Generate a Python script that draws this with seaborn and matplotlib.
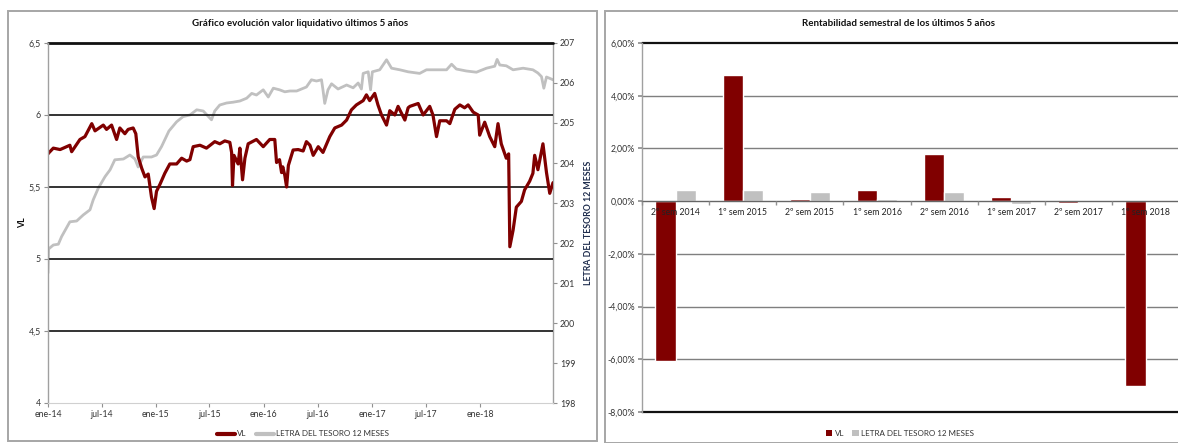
import matplotlib
matplotlib.use("Agg")
import matplotlib.pyplot as plt
import seaborn as sns
import pandas as pd
import numpy as np
from matplotlib.lines import Line2D
from matplotlib.patches import Rectangle, Patch
from matplotlib.ticker import FuncFormatter, FixedLocator

# ---------------- data ----------------
vl_dates = ["2014-01-01", "2014-01-05", "2014-01-19", "2014-02-11", "2014-03-16", "2014-03-22",
            "2014-04-19", "2014-05-06", "2014-05-29", "2014-06-09", "2014-07-07", "2014-07-18",
            "2014-08-04", "2014-08-21", "2014-09-01", "2014-09-18", "2014-09-29", "2014-10-16",
            "2014-10-25", "2014-11-02", "2014-11-14", "2014-11-25", "2014-12-06", "2014-12-17",
            "2014-12-26", "2015-01-03", "2015-01-15", "2015-01-31", "2015-02-17", "2015-03-12",
            "2015-03-29", "2015-04-15", "2015-04-26", "2015-05-07", "2015-05-30", "2015-06-21",
            "2015-07-19", "2015-08-05", "2015-08-22", "2015-09-08", "2015-09-14", "2015-09-17",
            "2015-09-22", "2015-10-06", "2015-10-12", "2015-10-21", "2015-10-29", "2015-11-09",
            "2015-12-07", "2015-12-30", "2016-01-21", "2016-02-07", "2016-02-13", "2016-02-23",
            "2016-03-01", "2016-03-05", "2016-03-12", "2016-03-18", "2016-03-24", "2016-04-09",
            "2016-04-26", "2016-05-13", "2016-05-24", "2016-06-05", "2016-06-16", "2016-07-03",
            "2016-07-19", "2016-08-11", "2016-08-28", "2016-09-20", "2016-10-07", "2016-10-23",
            "2016-11-09", "2016-12-02", "2016-12-13", "2016-12-24", "2017-01-10", "2017-01-21",
            "2017-02-02", "2017-02-19", "2017-03-02", "2017-03-19", "2017-03-30", "2017-04-22",
            "2017-05-03", "2017-05-09", "2017-06-06", "2017-06-23", "2017-07-15", "2017-07-26",
            "2017-08-07", "2017-08-18", "2017-09-10", "2017-09-21", "2017-10-08", "2017-10-25",
            "2017-11-10", "2017-11-22", "2017-12-09", "2017-12-26", "2017-12-31", "2018-01-17",
            "2018-02-03", "2018-02-20", "2018-03-03", "2018-03-14", "2018-03-31", "2018-04-08",
            "2018-04-12", "2018-04-23", "2018-05-04", "2018-05-21", "2018-06-01", "2018-06-18",
            "2018-06-29", "2018-07-05", "2018-07-16", "2018-08-02", "2018-08-14", "2018-08-25",
            "2018-09-05"]
vl_values = [5.73, 5.74, 5.77, 5.76, 5.79, 5.745,
             5.83, 5.85, 5.94, 5.89, 5.93, 5.90,
             5.93, 5.83, 5.91, 5.87, 5.90, 5.91,
             5.87, 5.71, 5.63, 5.57, 5.59, 5.43,
             5.35, 5.47, 5.52, 5.595, 5.66, 5.66,
             5.70, 5.68, 5.69, 5.78, 5.79, 5.77,
             5.815, 5.80, 5.82, 5.81, 5.74, 5.51,
             5.72, 5.66, 5.77, 5.55, 5.70, 5.80,
             5.83, 5.78, 5.83, 5.83, 5.67, 5.69,
             5.60, 5.64, 5.58, 5.50, 5.65, 5.757,
             5.76, 5.75, 5.815, 5.79, 5.72, 5.78,
             5.74, 5.85, 5.91, 5.93, 5.965, 6.035,
             6.07, 6.10, 6.14, 6.10, 6.15, 6.07,
             6.00, 5.93, 6.03, 6.00, 6.06, 5.965,
             6.05, 6.06, 6.08, 6.00, 6.06, 6.00,
             5.85, 5.96, 5.96, 5.94, 6.04, 6.07,
             6.05, 6.07, 6.02, 6.00, 5.86, 5.95,
             5.85, 5.78, 5.94, 5.80, 5.70, 5.73,
             5.085, 5.20, 5.36, 5.40, 5.48, 5.54,
             5.595, 5.72, 5.62, 5.80, 5.60, 5.456,
             5.53]

lt_dates = ["2014-01-01", "2014-01-03", "2014-01-19", "2014-02-05", "2014-02-16", "2014-03-16",
            "2014-04-08", "2014-04-30", "2014-05-23", "2014-06-03", "2014-06-20", "2014-07-13",
            "2014-07-30", "2014-08-15", "2014-09-13", "2014-10-05", "2014-10-22", "2014-11-02",
            "2014-11-19", "2014-12-17", "2015-01-03", "2015-01-20", "2015-02-14", "2015-03-12",
            "2015-04-03", "2015-04-26", "2015-05-19", "2015-06-10", "2015-07-08", "2015-07-19",
            "2015-08-05", "2015-08-28", "2015-09-19", "2015-10-12", "2015-11-04", "2015-11-21",
            "2015-12-07", "2015-12-30", "2016-01-16", "2016-02-02", "2016-02-23", "2016-03-12",
            "2016-03-29", "2016-04-21", "2016-05-24", "2016-06-10", "2016-06-27", "2016-07-14",
            "2016-07-19", "2016-07-25", "2016-08-05", "2016-08-17", "2016-09-08", "2016-10-07",
            "2016-10-29", "2016-11-15", "2016-11-26", "2016-12-02", "2016-12-19", "2016-12-27",
            "2017-01-02", "2017-01-27", "2017-02-19", "2017-03-08", "2017-04-05", "2017-05-03",
            "2017-06-11", "2017-07-04", "2017-08-07", "2017-09-10", "2017-09-27", "2017-10-13",
            "2017-11-16", "2017-12-20", "2018-01-23", "2018-02-20", "2018-02-28", "2018-03-09",
            "2018-03-31", "2018-04-23", "2018-05-27", "2018-06-29", "2018-07-16", "2018-07-28",
            "2018-08-05", "2018-08-14", "2018-08-30", "2018-09-05"]
lt_values = [201.25, 201.85, 201.95, 201.97, 202.16, 202.53,
             202.55, 202.70, 202.83, 203.08, 203.37, 203.66,
             203.83, 204.08, 204.10, 204.20, 204.10, 203.90,
             204.15, 204.15, 204.20, 204.41, 204.80, 205.03,
             205.16, 205.20, 205.33, 205.30, 205.08, 205.30,
             205.45, 205.50, 205.52, 205.55, 205.62, 205.74,
             205.70, 205.83, 205.65, 205.87, 205.83, 205.78,
             205.80, 205.80, 205.90, 206.08, 206.05, 206.08,
             205.83, 205.49, 205.83, 205.98, 205.85, 205.95,
             205.88, 206.00, 205.85, 206.24, 206.28, 205.83,
             206.28, 206.33, 206.58, 206.37, 206.33, 206.28,
             206.24, 206.33, 206.33, 206.33, 206.47, 206.35,
             206.30, 206.27, 206.37, 206.42, 206.59, 206.45,
             206.43, 206.33, 206.37, 206.33, 206.25, 206.16,
             205.87, 206.15, 206.10, 206.08]

x_tick_dates = ["2014-01-01", "2014-07-01", "2015-01-01", "2015-07-01", "2016-01-01",
                "2016-07-01", "2017-01-01", "2017-07-01", "2018-01-01"]
x_tick_labels = ["ene-14", "jul-14", "ene-15", "jul-15", "ene-16",
                 "jul-16", "ene-17", "jul-17", "ene-18"]

semesters = ["2º sem 2014", "1º sem 2015", "2º sem 2015", "1º sem 2016",
             "2º sem 2016", "1º sem 2017", "2º sem 2017", "1º sem 2018"]
rent_vl = [-6.07, 4.79, 0.10, 0.41, 1.77, 0.15, -0.07, -7.02]
rent_letra = [0.42, 0.42, 0.33, 0.10, 0.35, -0.10, 0.0, 0.0]

series_names = ["VL", "LETRA DEL TESORO 12 MESES"]

# ---------------- style ----------------
sns.set_theme(style="white")
plt.rcParams['font.family'] = ['Lato', 'DejaVu Sans']

RED = "#800000"
GREY = "#c0c0c0"
TXT = "#333333"
FS = 6.3

fig = plt.figure(figsize=(11.78, 4.43), dpi=100)
W, H = 1178, 443

def fx(px):
    return px / W

def fy(py):
    return 1 - py / H

# chart frames
fig.patches.append(Rectangle((fx(8), fy(441)), fx(597 - 8), (441 - 11) / H,
                             transform=fig.transFigure, fill=False,
                             edgecolor="#a6a6a6", lw=1.4, zorder=0))
fig.patches.append(Rectangle((fx(605), fy(443)), fx(1180 - 605), (443 - 11) / H,
                             transform=fig.transFigure, fill=False,
                             edgecolor="#a6a6a6", lw=1.4, zorder=0))

# ---------------- left: lines ----------------
ax = fig.add_axes([fx(48), fy(403), fx(553 - 48), (403 - 43) / H])
ax2 = ax.twinx()

df_vl = pd.DataFrame({"fecha": pd.to_datetime(vl_dates), "valor": vl_values})
df_lt = pd.DataFrame({"fecha": pd.to_datetime(lt_dates), "valor": lt_values})

sns.lineplot(data=df_lt, x="fecha", y="valor", ax=ax2, color=GREY, lw=2.0)
sns.lineplot(data=df_vl, x="fecha", y="valor", ax=ax, color=RED, lw=2.3)

ax.set_zorder(ax2.get_zorder() + 1)
ax.patch.set_visible(False)

ax.set_ylim(4, 6.5)
ax2.set_ylim(198, 207)
ax.set_xlim(pd.Timestamp("2014-01-01"), pd.Timestamp("2018-09-05"))
ax.set_yticks([4, 4.5, 5, 5.5, 6, 6.5])
ax.set_yticklabels(["4", "4,5", "5", "5,5", "6", "6,5"])
ax2.set_yticks(list(range(198, 208)))
ax2.set_yticklabels([str(v) for v in range(198, 208)])
ax.xaxis.set_major_locator(FixedLocator(matplotlib.dates.date2num(pd.to_datetime(x_tick_dates))))
ax.set_xticklabels(x_tick_labels)

for y in [4.5, 5, 5.5, 6]:
    ax.axhline(y, color="#111111", lw=1.2, zorder=0)
ax.axhline(6.5, color="#111111", lw=2.0, zorder=0, clip_on=False)

for a in (ax, ax2):
    for s in a.spines.values():
        s.set_visible(False)
ax.spines['left'].set_visible(True)
ax.spines['left'].set_color("#a0a0a0")
ax.spines['left'].set_linewidth(1.0)
ax.spines['bottom'].set_visible(True)
ax.spines['bottom'].set_color("#d0d0d0")
ax.spines['bottom'].set_linewidth(0.8)
ax2.spines['right'].set_visible(True)
ax2.spines['right'].set_color("#a0a0a0")
ax2.spines['right'].set_linewidth(1.0)

ax.tick_params(axis='both', labelsize=FS, colors=TXT, length=3, width=0.8, direction='out',
               left=True, bottom=True, pad=2)
ax.tick_params(axis='both', color="#909090")
ax2.tick_params(axis='y', labelsize=FS, colors=TXT, length=3, width=0.8, right=True, pad=2)
ax2.tick_params(axis='y', color="#909090")

ax.set_xlabel("")
ax.set_ylabel("VL", fontsize=6.3, fontweight="bold", color="#111111", labelpad=1)
ax2.set_ylabel("LETRA DEL TESORO 12 MESES", fontsize=6.3, fontweight="bold",
               color="#1f2d4d", labelpad=6)

fig.text(fx(300), fy(24), "Gráfico evolución valor liquidativo últimos 5 años",
         ha="center", va="center", fontsize=7, fontweight="bold", color="#111111")

h_line = [Line2D([], [], color=RED, lw=3), Line2D([], [], color=GREY, lw=3)]
fig.legend(h_line, series_names, loc="center", bbox_to_anchor=(fx(303), fy(434)),
           ncol=2, frameon=False, fontsize=5.8, handlelength=2.2, handletextpad=0.3,
           columnspacing=1.2, labelcolor=TXT)

# ---------------- right: bars ----------------
bx = fig.add_axes([fx(642), fy(412), fx(1178 - 642) + 0.001, (412 - 43) / H])
df_bar = pd.DataFrame({
    "semestre": semesters * 2,
    "serie": [series_names[0]] * len(semesters) + [series_names[1]] * len(semesters),
    "rent": rent_vl + rent_letra,
})
sns.barplot(data=df_bar, x="semestre", y="rent", hue="serie", order=semesters,
            hue_order=series_names, palette=[RED, GREY], width=0.6, ax=bx,
            legend=False, saturation=1.0, zorder=2)

bx.set_axisbelow(False)
bx.set_ylim(-8, 6)
bx.set_xlim(-0.5, len(semesters) - 0.5)
bx.set_yticks([-8, -6, -4, -2, 0, 2, 4, 6])
bx.yaxis.set_major_formatter(FuncFormatter(lambda v, p: (f"{v:.2f}%").replace(".", ",")))
for y in [-6, -4, -2, 2, 4]:
    bx.axhline(y, color="#7f7f7f", lw=1.0, zorder=0)
bx.axhline(6, color="#111111", lw=1.6, zorder=0, clip_on=False)
bx.axhline(-8, color="#111111", lw=1.6, zorder=0, clip_on=False)

for s in bx.spines.values():
    s.set_visible(False)
bx.spines['left'].set_visible(True)
bx.spines['left'].set_color("#a0a0a0")
bx.spines['left'].set_linewidth(1.0)
bx.spines['bottom'].set_visible(True)
bx.spines['bottom'].set_position(('data', 0))
bx.spines['bottom'].set_color("#666666")
bx.spines['bottom'].set_linewidth(1.0)
bx.spines['bottom'].set_zorder(3)

bx.set_xticks(range(len(semesters)))
bx.set_xticklabels(semesters)
bx.set_xticks(np.arange(len(semesters)) - 0.5, minor=True)
bx.tick_params(axis='x', which='major', length=0, labelsize=FS, colors="#222222", pad=5)
bx.tick_params(axis='x', which='minor', length=3, color="#909090", direction='out', bottom=True)
bx.tick_params(axis='y', labelsize=FS, colors=TXT, length=3, color="#909090", left=True, pad=2)
bx.xaxis.set_zorder(5)
bx.set_xlabel("")
bx.set_ylabel("")

fig.text(fx(899), fy(24), "Rentabilidad semestral de los últimos 5 años",
         ha="center", va="center", fontsize=7, fontweight="bold", color="#111111")

h_bar = [Patch(facecolor=RED, edgecolor="none"), Patch(facecolor=GREY, edgecolor="none")]
fig.legend(h_bar, series_names, loc="center", bbox_to_anchor=(fx(900), fy(433)),
           ncol=2, frameon=False, fontsize=5.8, handlelength=0.8, handleheight=0.8,
           handletextpad=0.3, columnspacing=1.0, labelcolor=TXT)

fig.savefig("out.png", dpi=100)
